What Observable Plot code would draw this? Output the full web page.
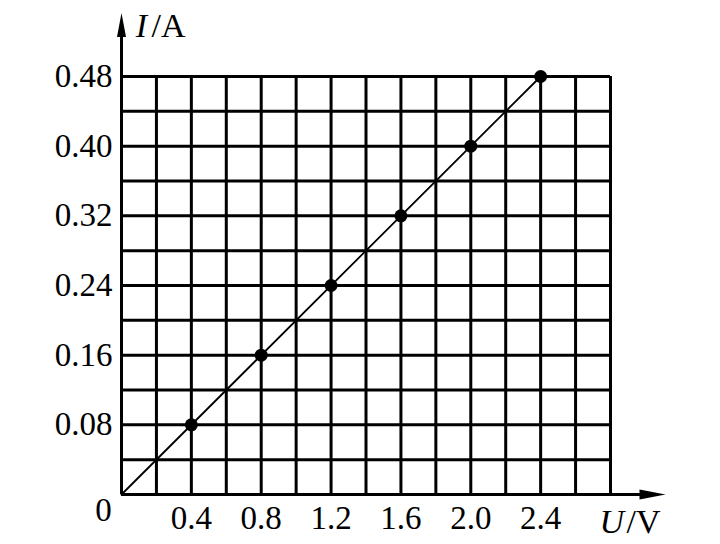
<!DOCTYPE html>
<html><head><meta charset="utf-8">
<script src="https://cdn.jsdelivr.net/npm/d3@7"></script>
<script src="https://cdn.jsdelivr.net/npm/@observablehq/plot@0.6"></script>
<style>
html,body{margin:0;padding:0;background:#fff;}
</style>
</head><body>
<div id="chart"></div>
<script>
const voltage = [0.4, 0.8, 1.2, 1.6, 2.0, 2.4];
const current = [0.08, 0.16, 0.24, 0.32, 0.40, 0.48];
const xTickLabels = ["0.4", "0.8", "1.2", "1.6", "2.0", "2.4"];
const yTickLabels = ["0.08", "0.16", "0.24", "0.32", "0.40", "0.48"];
const xGrid = [0, 0.2, 0.4, 0.6, 0.8, 1.0, 1.2, 1.4, 1.6, 1.8, 2.0, 2.2, 2.4, 2.6, 2.8];
const yGrid = [0, 0.04, 0.08, 0.12, 0.16, 0.20, 0.24, 0.28, 0.32, 0.36, 0.40, 0.44, 0.48];
const xMax = 2.8, yMax = 0.48;
const xArrow = 3.115, yArrow = 0.553;

const points = voltage.map((u, i) => ({u, i: current[i]}));
const fitLine = [{u: 0, i: 0}, {u: voltage[voltage.length-1], i: current[current.length-1]}];

const arrowRight = {draw(ctx) { ctx.moveTo(0,0); ctx.lineTo(-26,-5); ctx.lineTo(-26,5); ctx.closePath(); }};
const arrowUp = {draw(ctx) { ctx.moveTo(0,0); ctx.lineTo(-4.5,24); ctx.lineTo(4.5,24); ctx.closePath(); }};

const font = "'Liberation Serif', 'DejaVu Serif', serif";

const chart = Plot.plot({
  width: 720, height: 544,
  marginLeft: 121, marginRight: 110, marginTop: 76, marginBottom: 50,
  x: {domain: [0, xMax], axis: null},
  y: {domain: [0, yMax], axis: null},
  style: {fontFamily: font, background: "white"},
  marks: [
    Plot.ruleX(xGrid, {x: d => d, y1: 0, y2: yMax, stroke: "black", strokeWidth: 3}),
    Plot.ruleY(yGrid, {y: d => d, x1: 0, x2: xMax, stroke: "black", strokeWidth: 3}),
    Plot.ruleY([0], {x1: 0, x2: xArrow - 0.05, stroke: "black", strokeWidth: 3}),
    Plot.ruleX([0], {y1: 0, y2: yArrow - 0.01, stroke: "black", strokeWidth: 3}),
    Plot.dot([{x: xArrow, y: 0}], {x: "x", y: "y", symbol: arrowRight, fill: "black", stroke: "none", r: 5}),
    Plot.dot([{x: 0, y: yArrow}], {x: "x", y: "y", symbol: arrowUp, fill: "black", stroke: "none", r: 5}),
    Plot.line(fitLine, {x: "u", y: "i", stroke: "black", strokeWidth: 1.8}),
    Plot.dot(points, {x: "u", y: "i", r: 6.5, fill: "black", stroke: "none"}),
    Plot.text(voltage, {x: d => d, y: 0, text: (d, k) => xTickLabels[k], dy: 24, fontSize: 33, fill: "black", textAnchor: "middle"}),
    Plot.text(current, {x: 0, y: d => d, text: (d, k) => yTickLabels[k], dx: -9, fontSize: 33, fill: "black", textAnchor: "end"}),
    Plot.text(["0"], {x: 0, y: 0, text: d => d, dx: -18, dy: 16, fontSize: 33, fill: "black"}),
    Plot.text(["I"], {x: 0, y: yArrow, text: d => d, dx: 20, dy: 13, fontSize: 34, fontStyle: "italic", fill: "black"}),
    Plot.text(["/A"], {x: 0, y: yArrow, text: d => d, dx: 47, dy: 13, fontSize: 34, fill: "black"}),
    Plot.text(["U"], {x: xArrow, y: 0, text: d => d, dx: -66, dy: 28, fontSize: 34, fontStyle: "italic", fill: "black", textAnchor: "start"}),
    Plot.text(["/V"], {x: xArrow, y: 0, text: d => d, dx: -39, dy: 28, fontSize: 34, fill: "black", textAnchor: "start"})
  ]
});
document.getElementById("chart").appendChild(chart);
</script>
</body></html>
